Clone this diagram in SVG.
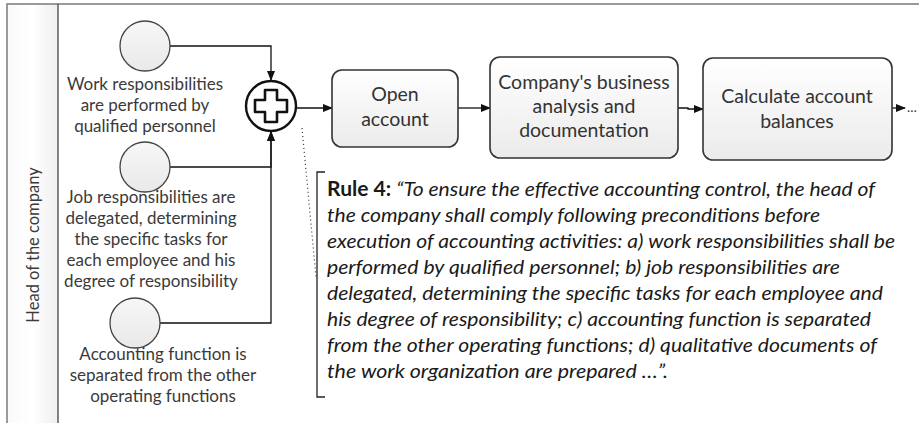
<svg xmlns="http://www.w3.org/2000/svg" width="919" height="423" viewBox="0 0 919 423">
<defs>
<linearGradient id="boxg" x1="0" y1="0" x2="0" y2="1"><stop offset="0" stop-color="#ffffff"/><stop offset="1" stop-color="#ebebeb"/></linearGradient>
<linearGradient id="circg" x1="0" y1="0" x2="0" y2="1"><stop offset="0" stop-color="#f7f7f7"/><stop offset="1" stop-color="#e9e9e9"/></linearGradient>
<linearGradient id="laneg" x1="0" y1="0" x2="1" y2="0"><stop offset="0" stop-color="#fafafa"/><stop offset="0.5" stop-color="#ffffff"/><stop offset="1" stop-color="#efefef"/></linearGradient>
<marker id="arr" markerWidth="10" markerHeight="8" refX="9" refY="4" orient="auto" markerUnits="userSpaceOnUse"><path d="M0,0 L10,4 L0,8 Z" fill="#111"/></marker>
</defs>
<style>
.lbl{font-family:Lato,"Liberation Sans",sans-serif;font-size:17px;fill:#3a3a3a;text-anchor:middle}
.blbl{font-family:Lato,"Liberation Sans",sans-serif;font-size:19.5px;fill:#333;text-anchor:middle}
.ev{fill:url(#circg);stroke:#444;stroke-width:1.3}
.task{fill:url(#boxg);stroke:#333;stroke-width:1.6}
.flow{fill:none;stroke:#111;stroke-width:1.3}
.ann{font-family:Lato,"Liberation Sans",sans-serif;font-size:20px;fill:#1a1a1a;font-style:italic}
</style>
<rect x="7" y="4" width="51" height="419" fill="url(#laneg)"/>
<path d="M7,423 V4 H919" fill="none" stroke="#7a7a7a" stroke-width="1.5"/>
<line x1="58" y1="4" x2="58" y2="423" stroke="#444" stroke-width="1.3"/>
<text class="lbl" x="33" y="251" transform="rotate(-90 33 245)" style="font-size:16.5px">Head of the company</text>

<g id="connectors">
<path class="flow" d="M170,46 H271 V80" marker-end="url(#arr)"/>
<path class="flow" d="M170,167 H271 V132" marker-end="url(#arr)"/>
<path class="flow" d="M160,323 H271 V132" marker-end="url(#arr)"/>
<path class="flow" d="M297,108 H332" marker-end="url(#arr)"/>
<path class="flow" d="M458,108 H490" marker-end="url(#arr)"/>
<path class="flow" d="M678,108 H688 V109 H703" marker-end="url(#arr)"/>
<path class="flow" d="M892,108 H905" marker-end="url(#arr)"/>
<path d="M302,128 L316,277" fill="none" stroke="#333" stroke-width="1.2" stroke-dasharray="1,3"/>
</g>

<g id="start1">
<circle class="ev" cx="145" cy="46" r="25"/>
<text class="lbl" x="145" y="90">Work responsibilities</text>
<text class="lbl" x="145" y="111">are performed by</text>
<text class="lbl" x="145" y="132">qualified personnel</text>
</g>
<g id="start2">
<circle class="ev" cx="145" cy="167" r="25"/>
<text class="lbl" x="151" y="203">Job responsibilities are</text>
<text class="lbl" x="151" y="224">delegated, determining</text>
<text class="lbl" x="151" y="245">the specific tasks for</text>
<text class="lbl" x="151" y="266">each employee and his</text>
<text class="lbl" x="151" y="287">degree of responsibility</text>
</g>
<g id="start3">
<circle class="ev" cx="135" cy="323" r="25"/>
<text class="lbl" x="163" y="360">Accounting function is</text>
<text class="lbl" x="163" y="381">separated from the other</text>
<text class="lbl" x="163" y="402">operating functions</text>
</g>
<g id="gateway">
<circle cx="271" cy="106" r="25" fill="#fff" stroke="#111" stroke-width="2.4"/>
<path d="M265,90 H277 V100 H287 V112 H277 V122 H265 V112 H255 V100 H265 Z" fill="#fff" stroke="#111" stroke-width="2.6" stroke-linejoin="round"/>
</g>
<g id="task1">
<rect class="task" x="332" y="70" width="126" height="77" rx="10"/>
<text class="blbl" x="395" y="101">Open</text>
<text class="blbl" x="395" y="126">account</text>
</g>
<g id="task2">
<rect class="task" x="490" y="57" width="188" height="101" rx="10"/>
<text class="blbl" x="584" y="89">Company's business</text>
<text class="blbl" x="584" y="113">analysis and</text>
<text class="blbl" x="584" y="137">documentation</text>
</g>
<g id="task3">
<rect class="task" x="703" y="58" width="189" height="102" rx="10"/>
<text class="blbl" x="797" y="103">Calculate account</text>
<text class="blbl" x="797" y="128">balances</text>
</g>
<text x="907" y="112" style="font-family:Lato,'Liberation Sans',sans-serif;font-size:13px;fill:#333">…</text>

<g id="annotation">
<path d="M325,172 H317 V397 H325" fill="none" stroke="#222" stroke-width="1.3"/>
<text class="ann" x="327" y="196" textLength="548" lengthAdjust="spacingAndGlyphs"><tspan style="font-style:normal;font-weight:bold">Rule 4:</tspan> “To ensure the effective accounting control, the head of</text>
<text class="ann" x="327" y="222" textLength="493" lengthAdjust="spacingAndGlyphs">the company shall comply following preconditions before</text>
<text class="ann" x="327" y="248" textLength="568" lengthAdjust="spacingAndGlyphs">execution of accounting activities: a) work responsibilities shall be</text>
<text class="ann" x="327" y="274" textLength="513" lengthAdjust="spacingAndGlyphs">performed by qualified personnel; b) job responsibilities are</text>
<text class="ann" x="327" y="300" textLength="556" lengthAdjust="spacingAndGlyphs">delegated, determining the specific tasks for each employee and</text>
<text class="ann" x="327" y="326" textLength="544" lengthAdjust="spacingAndGlyphs">his degree of responsibility; c) accounting function is separated</text>
<text class="ann" x="327" y="352" textLength="550" lengthAdjust="spacingAndGlyphs">from the other operating functions; d) qualitative documents of</text>
<text class="ann" x="327" y="378" textLength="341" lengthAdjust="spacingAndGlyphs">the work organization are prepared …”.</text>
</g>
</svg>
